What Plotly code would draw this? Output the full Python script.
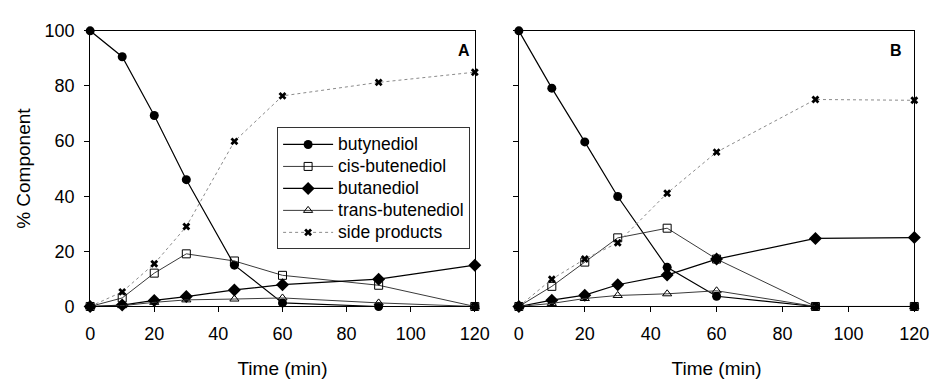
import plotly.graph_objects as go

# Sampling times (min)
time_min = [0, 10, 20, 30, 45, 60, 90, 120]

# Panel A composition (%)
a_butynediol = [100, 90.6, 69.3, 46.0, 15.0, 1.3, 0, 0]
a_cis_butenediol = [0, 3.1, 12.1, 19.1, 16.5, 11.3, 7.7, 0]
a_butanediol = [0, 0.5, 2.2, 3.6, 6.0, 7.9, 9.9, 15.0]
a_trans_butenediol = [0, 0.3, 1.5, 2.4, 2.7, 3.1, 1.3, 0]
a_side_products = [0, 5.3, 15.5, 29.0, 59.9, 76.4, 81.3, 85.0]

# Panel B composition (%)
b_butynediol = [100, 79.2, 59.7, 39.9, 14.2, 3.7, 0, 0]
b_cis_butenediol = [0, 7.3, 16.1, 24.9, 28.4, 17.2, 0, 0]
b_butanediol = [0, 2.3, 4.1, 7.9, 11.4, 17.2, 24.7, 25.0]
b_trans_butenediol = [0, 1.1, 2.9, 4.0, 4.6, 5.7, 0, 0]
b_side_products = [0, 9.9, 17.2, 23.1, 41.1, 56.0, 75.1, 74.8]

series_names = ["butynediol", "cis-butenediol", "butanediol",
                "trans-butenediol", "side products"]
x_ticks = [0, 20, 40, 60, 80, 100, 120]
y_ticks = [0, 20, 40, 60, 80, 100]

FONT = "Liberation Sans, Arial, sans-serif"

styles = [
    dict(line=dict(color="black", width=1.2),
         marker=dict(symbol="circle", size=9, color="black")),
    dict(line=dict(color="#3a3a3a", width=1),
         marker=dict(symbol="square-open", size=8, color="black",
                     line=dict(width=1))),
    dict(line=dict(color="black", width=1.2),
         marker=dict(symbol="diamond", size=10, color="black")),
    dict(line=dict(color="#3a3a3a", width=1),
         marker=dict(symbol="triangle-up-open", size=8, color="black",
                     line=dict(width=1))),
    dict(line=dict(color="#8a8a8a", width=1, dash="dot"),
         marker=dict(symbol="x", size=7, color="black",
                     line=dict(width=0))),
]

fig = go.Figure()

panels = [
    ("x", "y", [a_butynediol, a_cis_butenediol, a_butanediol,
                a_trans_butenediol, a_side_products], True),
    ("x2", "y2", [b_butynediol, b_cis_butenediol, b_butanediol,
                  b_trans_butenediol, b_side_products], False),
]

# legend rows are spaced by a compact base font; the label text itself is larger
LEGEND_TEXT_PX = 17.5

for xa, ya, data, show in panels:
    for name, vals, st in zip(series_names, data, styles):
        fig.add_trace(go.Scatter(
            x=time_min, y=vals,
            name=f'<span style="font-size:{LEGEND_TEXT_PX}px">{name}</span>',
            mode="lines+markers",
            line=st["line"], marker=st["marker"],
            xaxis=xa, yaxis=ya, showlegend=show, cliponaxis=False,
        ))

axis_common = dict(
    showgrid=False, zeroline=False, showline=True,
    linecolor="black", linewidth=1, mirror=True,
    ticks="outside", ticklen=5, tickcolor="black", tickwidth=1,
    tickfont=dict(family=FONT, size=18, color="black"),
)

title_font = dict(family=FONT, size=19, color="black")

y_top = 1 - 22 / 379
y_bot = 1 - 313 / 379

fig.update_layout(
    width=943, height=379,
    margin=dict(l=0, r=0, t=0, b=0),
    paper_bgcolor="white", plot_bgcolor="white",
    font=dict(family=FONT, color="black"),
    xaxis=dict(axis_common, range=[0, 120], tickvals=x_ticks,
               domain=[87 / 943, 480 / 943], anchor="y",
               ticklabelstandoff=6,
               title=dict(text="Time (min)", font=title_font, standoff=18)),
    yaxis=dict(axis_common, range=[0, 100], tickvals=y_ticks,
               domain=[y_bot, y_top], anchor="x",
               ticklabelstandoff=6,
               title=dict(text="% Component", font=title_font, standoff=8)),
    xaxis2=dict(axis_common, range=[0, 120], tickvals=x_ticks,
                domain=[525 / 943, 929 / 943], anchor="y2",
                ticklabelstandoff=6,
                title=dict(text="Time (min)", font=title_font, standoff=18)),
    yaxis2=dict(axis_common, range=[0, 100], tickvals=y_ticks,
                showticklabels=False,
                domain=[y_bot, y_top], anchor="x2"),
    legend=dict(
        x=278 / 943, y=1 - 124 / 379, xanchor="left", yanchor="top",
        bgcolor="white", bordercolor="#333333", borderwidth=1,
        font=dict(family=FONT, size=14.6, color="black"),
        tracegroupgap=0, itemwidth=50,
    ),
    annotations=[
        dict(text="<b>A</b>", x=469 / 943, y=1 - 43 / 379, xref="paper",
             yref="paper", showarrow=False, xanchor="center",
             yanchor="middle", font=dict(family=FONT, size=16)),
        dict(text="<b>B</b>", x=910 / 943, y=1 - 43 / 379, xref="paper",
             yref="paper", showarrow=False, xanchor="center",
             yanchor="middle", font=dict(family=FONT, size=16)),
    ],
)

fig.write_html("out.html")
